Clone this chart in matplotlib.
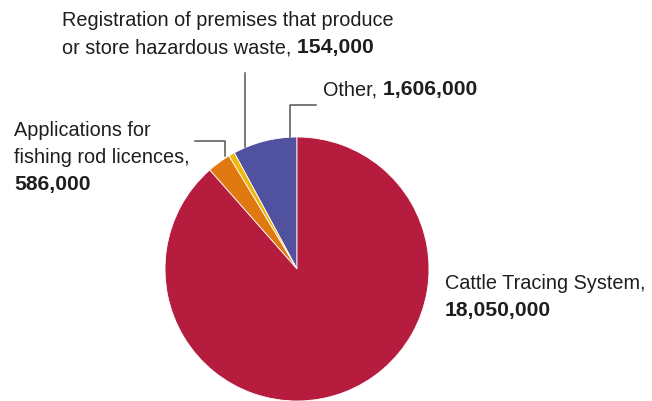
import matplotlib

matplotlib.use("Agg")
import matplotlib.pyplot as plt
from matplotlib.lines import Line2D

plt.rcParams["font.family"] = ["Liberation Sans", "DejaVu Sans"]

# slices run anticlockwise from 12 o'clock
labels = [
    "Other",
    "Registration of premises that produce\nor store hazardous waste",
    "Applications for\nfishing rod licences",
    "Cattle Tracing System",
]
values = [1606000, 154000, 586000, 18050000]
colors = ["#5052a0", "#edb70c", "#e07a10", "#b51c3e"]

W, H = 652, 402
fig = plt.figure(figsize=(W / 100, H / 100), dpi=100)

# pie centred at (297, 270) px with a 132 px radius
cx, cy, r = 297, 270, 132
ax = fig.add_axes([(cx - r) / W, (H - cy - r) / H, 2 * r / W, 2 * r / H])
ax.pie(values, colors=colors, startangle=90, counterclock=True,
       wedgeprops=dict(edgecolor="white", linewidth=0.6))
ax.set_xlim(-1, 1)
ax.set_ylim(-1, 1)
ax.axis("off")


def px(x, y):
    return x / W, 1 - y / H


def leader(points):
    xs, ys = zip(*[px(x, y) for x, y in points])
    fig.add_artist(Line2D(xs, ys, transform=fig.transFigure, color="#555555",
                          linewidth=1.1))


leader([(290, 138), (290, 106), (316, 106)])
leader([(245, 148), (245, 74)])
leader([(195, 142), (225, 142), (225, 157)])

FS = 14.3
FS_BOLD = 15.2
TXT = "#1e1e1e"
fig.canvas.draw()
renderer = fig.canvas.get_renderer()


def label(x, y, lines, value, value_inline=True, line_h=27):
    """Draw a label; the value is bold, either after the last line or below it."""
    for i, line in enumerate(lines):
        t = fig.text(*px(x, y + i * line_h), line, fontsize=FS, color=TXT,
                     ha="left", va="center")
    if value_inline:
        bb = t.get_window_extent(renderer)
        fig.text(bb.x1 / W, 1 - (y + (len(lines) - 1) * line_h) / H,
                 " " + f"{value:,}", fontsize=FS_BOLD, color=TXT,
                 fontweight="bold", ha="left", va="center")
    else:
        fig.text(*px(x, y + len(lines) * line_h), f"{value:,}",
                 fontsize=FS_BOLD, color=TXT, fontweight="bold",
                 ha="left", va="center")


label(323, 90, ["Other,"], values[0])
label(62, 21, ["Registration of premises that produce",
               "or store hazardous waste,"], values[1])
label(14, 131, ["Applications for", "fishing rod licences,"], values[2],
      value_inline=False)
label(445, 284, ["Cattle Tracing System,"], values[3], value_inline=False)

fig.savefig("out.png", dpi=100)
